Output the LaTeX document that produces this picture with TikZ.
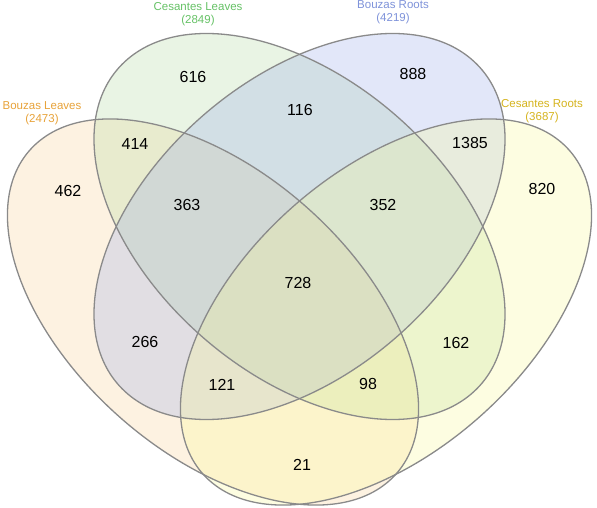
\documentclass[tikz,border=0pt]{standalone}
\usepackage{fontspec}
\setmainfont{Liberation Sans}
\usetikzlibrary{positioning}
\definecolor{leafbz}{HTML}{FBCF8B}
\definecolor{leafcs}{HTML}{ABD797}
\definecolor{rootbz}{HTML}{8FA3EB}
\definecolor{rootcs}{HTML}{FBFB8B}
\definecolor{rim}{HTML}{8A8A8A}
\definecolor{leafbztext}{HTML}{E8A33A}
\definecolor{leafcstext}{HTML}{66C266}
\definecolor{rootbztext}{HTML}{7F93DA}
\definecolor{rootcstext}{HTML}{D6B41E}

\begin{document}
\begin{tikzpicture}[
  x=1pt, y=1pt,
  setfill/.style={fill=#1, fill opacity=0.25},
  setrim/.style={draw=rim, line width=1.3pt},
  count/.style={font=\fontsize{16}{18}\selectfont, text=black, inner sep=0pt},
  setlabel/.style={font=\fontsize{11.5}{13.5}\selectfont, align=center,
    text=#1, inner sep=0pt}
]
\useasboundingbox (0,0) rectangle (597,507);
\fill[white] (0,0) rectangle (597,507);
% ---------------- set fills ----------------
\fill[setfill=leafbz, shift={(213,195)}, xscale=205.5, yscale=193, rotate=135]
  (0,0) ellipse (1.225 and 0.707);
\fill[setfill=leafcs, shift={(299.5,280.5)}, xscale=205.5, yscale=193, rotate=135]
  (0,0) ellipse (1.205 and 0.74);
\fill[setfill=rootbz, shift={(299.5,280.5)}, xscale=205.5, yscale=193, rotate=45]
  (0,0) ellipse (1.205 and 0.74);
\fill[setfill=rootcs, shift={(386,195)}, xscale=205.5, yscale=193, rotate=45]
  (0,0) ellipse (1.225 and 0.707);
% ---------------- set outlines ----------------
\draw[setrim, shift={(213,195)}, xscale=205.5, yscale=193, rotate=135]
  (0,0) ellipse (1.225 and 0.707);
\draw[setrim, shift={(299.5,280.5)}, xscale=205.5, yscale=193, rotate=135]
  (0,0) ellipse (1.205 and 0.74);
\draw[setrim, shift={(299.5,280.5)}, xscale=205.5, yscale=193, rotate=45]
  (0,0) ellipse (1.205 and 0.74);
\draw[setrim, shift={(386,195)}, xscale=205.5, yscale=193, rotate=45]
  (0,0) ellipse (1.225 and 0.707);
% ---------------- set names ----------------
\node[setlabel=leafbztext] (labA) at (42,394) {Bouzas Leaves\\(2473)};
\node[setlabel=leafcstext] (labB) at (198,493) {Cesantes Leaves\\(2849)};
\node[setlabel=rootbztext] (labC) at (393,495) {Bouzas Roots\\(4219)};
\node[setlabel=rootcstext] (labD) at (542,396) {Cesantes Roots\\(3687)};
% ---------------- region counts ----------------
\node[count] (nA) at (68,316) {462};
\node[count] (nB) at (193,430) {616};
\node[count] (nC) at (413,433) {888};
\node[count] (nD) at (542,318) {820};
\node[count] (nAB) at (135,363) {414};
\node[count] (nBC) at (300,397) {116};
\node[count] (nCD) at (470,364) {1385};
\node[count] (nABC) at (187,302) {363};
\node[count] (nBCD) at (383,302) {352};
\node[count] (nABCD) at (298,224) {728};
\node[count] (nAC) at (145,165) {266};
\node[count] (nBD) at (456,164) {162};
\node[count] (nABD) at (222,122) {121};
\node[count] (nACD) at (368,123) {98};
\node[count] (nAD) at (302,42) {21};
\end{tikzpicture}
\end{document}
